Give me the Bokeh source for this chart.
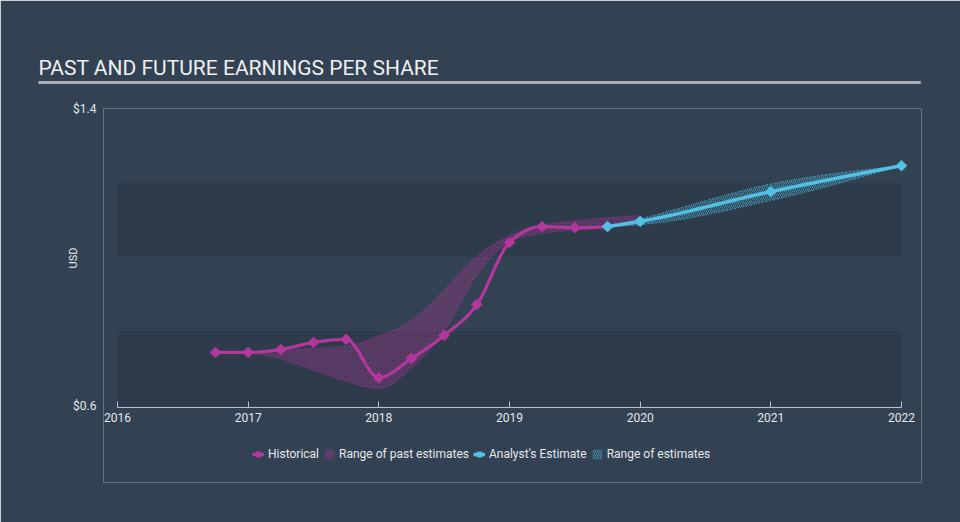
import numpy as np
from bokeh.plotting import figure
from bokeh.models import (Range1d, FixedTicker, NumeralTickFormatter, Title,
                          Legend, LegendItem)
from bokeh.embed import file_html
from bokeh.resources import INLINE

# ---------------- data ----------------
hist_t = [2016.75, 2017.0, 2017.25, 2017.5, 2017.75, 2018.0, 2018.25, 2018.5,
          2018.75, 2019.0, 2019.25, 2019.5, 2019.75]
hist_eps = [0.743, 0.743, 0.751, 0.770, 0.778, 0.675, 0.727, 0.789,
            0.872, 1.039, 1.082, 1.079, 1.082]

past_t = [2017.0, 2017.25, 2017.5, 2017.75, 2018.0, 2018.25, 2018.5,
          2018.75, 2019.0, 2019.25, 2019.5, 2019.75, 2020.0]
past_high = [0.743, 0.748, 0.755, 0.760, 0.788, 0.830, 0.912,
             1.002, 1.058, 1.085, 1.098, 1.106, 1.112]
past_low = [0.743, 0.725, 0.695, 0.665, 0.645, 0.700, 0.800,
            0.950, 1.040, 1.063, 1.072, 1.078, 1.090]

est_t = [2019.75, 2020.0, 2021.0, 2022.0]
est_eps = [1.082, 1.096, 1.176, 1.246]
est_high = [1.082, 1.103, 1.197, 1.246]
est_low = [1.082, 1.087, 1.152, 1.246]

x_ticks = [2016, 2017, 2018, 2019, 2020, 2021, 2022]
y_ticks = [0.6, 1.4]
band_ticks = [0.6, 0.8, 1.0, 1.2, 1.4]

title_text = "PAST AND FUTURE EARNINGS PER SHARE"
y_label = "USD"
legend_labels = ["Historical", "Range of past estimates", "Analyst's Estimate", "Range of estimates"]

# ---------------- styling ----------------
BG = "#334252"
DARK_BAND = "#2e3b4a"
MAGENTA = "#b3379c"
CYAN = "#52c1e6"
TEXT = "#e4e8ec"
AXIS = "#b8c0c8"
FONT = "Roboto"


def monotone(xs, ys, n=24):
    """Monotone cubic (d3 curveMonotoneX style) rendering of a series."""
    x = np.asarray(xs, float)
    y = np.asarray(ys, float)
    N = len(x)
    h = np.diff(x)
    s = np.diff(y) / h
    t = np.zeros(N)
    sg = lambda v: -1.0 if v < 0 else 1.0
    for i in range(1, N - 1):
        p = (s[i - 1] * h[i] + s[i] * h[i - 1]) / (h[i - 1] + h[i])
        t[i] = (sg(s[i - 1]) + sg(s[i])) * min(abs(s[i - 1]), abs(s[i]), 0.5 * abs(p))
    t[0] = (3 * s[0] - t[1]) / 2
    t[-1] = (3 * s[-1] - t[-2]) / 2
    ox, oy = [], []
    for i in range(N - 1):
        u = np.linspace(0, 1, n, endpoint=(i == N - 2))
        h00 = 2 * u**3 - 3 * u**2 + 1
        h10 = u**3 - 2 * u**2 + u
        h01 = -2 * u**3 + 3 * u**2
        h11 = u**3 - u**2
        ox.extend(x[i] + u * h[i])
        oy.extend(h00 * y[i] + h10 * h[i] * t[i] + h01 * y[i + 1] + h11 * h[i] * t[i + 1])
    return np.array(ox), np.array(oy)


# pixel geometry: 2016 at x=117, 2022 at x=901; $1.4 at y=108, $0.6 at y=405.
# The frame is a little larger (103..921 x 108..482) so tick labels, the last
# marker and the legend are not clipped.
X0, X1, Y_TOP, Y_06 = 117, 901, 108, 405
FL, FR, FT, FB = 103, 921, 108, 482
PX_YEAR = (X1 - X0) / (x_ticks[-1] - x_ticks[0])
PX_UNIT = (Y_06 - Y_TOP) / (y_ticks[1] - y_ticks[0])
x_start = x_ticks[0] - (X0 - FL) / PX_YEAR
x_end = x_ticks[-1] + (FR - X1) / PX_YEAR
y_start = y_ticks[0] - (FB - Y_06) / PX_UNIT

p = figure(width=960, height=522, x_range=Range1d(x_start, x_end),
           y_range=Range1d(y_start, y_ticks[1]),
           output_backend="svg", toolbar_location=None,
           min_border_left=FL, min_border_right=960 - FR, min_border_top=FT,
           min_border_bottom=522 - FB,
           background_fill_color=BG, border_fill_color=BG,
           outline_line_color=None)
p.outline_line_alpha = 0
p.outline_line_width = 0
# switch off any other frame outline this Bokeh version may draw
for _name in ("frame_outline_line_color", "border_line_color"):
    try:
        setattr(p, _name, None)
    except Exception:
        pass
_frame = getattr(p, "frame", None)
if _frame is not None:
    for _name in ("outline_line_color", "border_line_color"):
        try:
            setattr(_frame, _name, None)
        except Exception:
            pass

# title rule (a padded, filled title box) and title text, both in the top panel
rule = Title(text="\u00a0", align="left", offset=38 - FL, standoff=49,
             text_font_size="1px", padding=(441, 1),
             background_fill_color="#aab1b8", background_fill_alpha=1.0)
p.add_layout(rule, "above")
head = Title(text=title_text, align="left", offset=38 - FL, standoff=-50,
             text_font=FONT, text_font_size="21px", text_font_style="normal",
             text_color="#eef0f2")
p.add_layout(head, "above")

# alternating background bands (darker between 0.6-0.8 and 1.0-1.2)
p.xgrid.visible = False
p.ygrid.visible = False
p.quad(left=[x_ticks[0]] * 2, right=[x_ticks[-1]] * 2,
       bottom=band_ticks[0:-1:2], top=band_ticks[1::2],
       fill_color=DARK_BAND, line_color=None)

# axes
p.xaxis.fixed_location = y_ticks[0] - 2 / PX_UNIT
p.xaxis.bounds = (x_ticks[0], x_ticks[-1])
p.xaxis.ticker = FixedTicker(ticks=x_ticks)
p.xaxis.formatter = NumeralTickFormatter(format="0")
p.xaxis.axis_line_color = AXIS
p.xaxis.axis_line_width = 1.2
p.xaxis.major_tick_line_color = AXIS
p.xaxis.major_tick_in = 6
p.xaxis.major_tick_out = 0
p.xaxis.minor_tick_line_color = None
p.xaxis.major_label_text_color = TEXT
p.xaxis.major_label_text_font = FONT
p.xaxis.major_label_text_font_size = "12px"
p.xaxis.major_label_standoff = 5

p.yaxis.ticker = FixedTicker(ticks=y_ticks)
p.yaxis.formatter = NumeralTickFormatter(format="$0.0")
p.yaxis.axis_line_color = None
p.yaxis.major_tick_line_color = None
p.yaxis.minor_tick_line_color = None
p.yaxis.major_label_text_color = TEXT
p.yaxis.major_label_text_font = FONT
p.yaxis.major_label_text_font_size = "12px"
p.yaxis.major_label_standoff = 1

# "USD" as a vertical title in the left panel, centred on the $0.6-$1.4 span
usd = Title(text=y_label, align="left", vertical_align="bottom",
            offset=FB - 268, standoff=-18,
            text_font=FONT, text_font_size="11px", text_font_style="normal",
            text_color=TEXT)
p.add_layout(usd, "left")

# range of past estimates
px_, ph_ = monotone(past_t, past_high)
_, pl_ = monotone(past_t, past_low)
past_area = p.varea(x=px_, y1=pl_, y2=ph_, fill_color=MAGENTA, fill_alpha=0.08,
                    hatch_pattern="/", hatch_color=MAGENTA, hatch_alpha=0.75,
                    hatch_scale=4, hatch_weight=0.7)
p.line(px_, ph_, line_color=MAGENTA, line_width=0.8, line_alpha=0.7, line_dash="2 2")
p.line(px_, pl_, line_color=MAGENTA, line_width=0.8, line_alpha=0.7, line_dash="2 2")

# range of estimates
ex_, eh_ = monotone(est_t, est_high)
_, el_ = monotone(est_t, est_low)
est_area = p.varea(x=ex_, y1=el_, y2=eh_, fill_color=CYAN, fill_alpha=0.08,
                   hatch_pattern="/", hatch_color=CYAN, hatch_alpha=0.75,
                   hatch_scale=4, hatch_weight=0.7)
p.line(ex_, eh_, line_color=CYAN, line_width=0.8, line_alpha=0.7, line_dash="2 2")
p.line(ex_, el_, line_color=CYAN, line_width=0.8, line_alpha=0.7, line_dash="2 2")

# historical
hx_, hy_ = monotone(hist_t, hist_eps)
hist_line = p.line(hx_, hy_, line_color=MAGENTA, line_width=3.2)
hist_pts = p.scatter(hist_t, hist_eps, marker="square", angle=np.pi / 4, size=7.5,
                     fill_color=MAGENTA, line_color=MAGENTA)

# analyst estimate
ax_, ay_ = monotone(est_t, est_eps)
est_line = p.line(ax_, ay_, line_color=CYAN, line_width=3.5)
est_pts = p.scatter(est_t, est_eps, marker="square", angle=np.pi / 4, size=7.5,
                    fill_color=CYAN, line_color=CYAN)

legend = Legend(items=[
    LegendItem(label=legend_labels[0], renderers=[hist_line, hist_pts]),
    LegendItem(label=legend_labels[1], renderers=[past_area]),
    LegendItem(label=legend_labels[2], renderers=[est_line, est_pts]),
    LegendItem(label=legend_labels[3], renderers=[est_area]),
], orientation="horizontal", location=(252 - FL, FB - 461),
    background_fill_alpha=0, border_line_color=None, padding=0, margin=0,
    spacing=4, label_standoff=4, glyph_width=12, glyph_height=12, label_height=12,
    label_text_font=FONT, label_text_font_size="12px", label_text_color=TEXT)
p.add_layout(legend)

open("out.html", "w").write(file_html(p, INLINE))
